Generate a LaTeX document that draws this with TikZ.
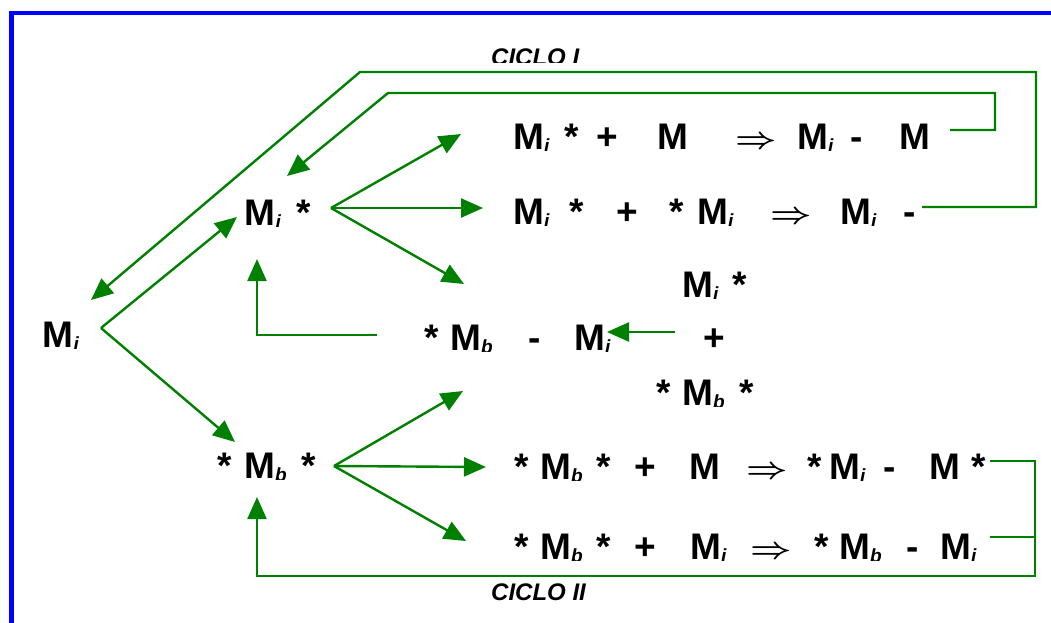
\documentclass[tikz,border=0pt]{standalone}
\usepackage{fontspec}
\setmainfont{Liberation Sans}
\usepackage{graphicx}
\usetikzlibrary{arrows.meta}
\definecolor{leaf}{RGB}{0,128,0}
\definecolor{frameblue}{RGB}{0,0,255}
% italic index letter, sitting low on the baseline
\newcommand\ix[1]{\raisebox{-3pt}{\fontsize{19}{19}\selectfont\bfseries\itshape #1}}
% place a token at a fixed offset (pt) from the start of its row
\newcommand\at[2]{\makebox[0pt][l]{\hspace*{#1pt}#2}}
% double arrow
\newcommand\impl{\raisebox{0.5pt}{\scalebox{3.6}[3.0]{\normalsize\boldmath$\Rightarrow$}}}
% text rows are cut just below their baseline
\newcommand\rowclip[1]{\clip (0,{#1-70}) rectangle (1051,{#1+1});}
\tikzset{
  tx/.style={font=\fontsize{37}{40}\selectfont\bfseries, inner sep=0pt, anchor=base west},
  lbl/.style={font=\fontsize{24}{26}\selectfont\bfseries\itshape, inner sep=0pt, anchor=base west},
  link/.style={draw=leaf, line width=2.4pt},
  arr/.style={link, -{Triangle[length=22pt,width=19pt]}},
}
\begin{document}
\begin{tikzpicture}[x=1pt,y=-1pt]
\clip (0,0) rectangle (1051,622);
\draw[frameblue, line width=4.5pt] (11.7,13) rectangle (1100,700);

% species on the left
\begin{scope}\rowclip{347}
  \node[tx] (Mi) at (42.5,347) {M\ix{i}};
\end{scope}
\begin{scope}\rowclip{225}
  \node[tx] (Mistar) at (244.5,225) {\makebox[64pt][l]{\at{0}{M\ix{i}}\at{52}{*}}};
\end{scope}
\begin{scope}\rowclip{478}
  \node[tx] (Mbstar) at (217,478) {\makebox[98pt][l]{\at{0}{*}\at{27}{M\ix{b}}\at{84}{*}}};
\end{scope}

% reactions of M_i*
\begin{scope}\rowclip{149}
  \node[tx] (r1) at (513,149) {\makebox[416pt][l]{\at{0}{M\ix{i}}\at{51}{*}\at{83}{+}\at{144}{M}\at{222}{\impl}\at{284}{M\ix{i}}\at{337}{-}\at{386}{M}}};
\end{scope}
\begin{scope}\rowclip{224}
  \node[tx] (r2) at (513,224) {\makebox[404pt][l]{\at{0}{M\ix{i}}\at{56}{*}\at{103}{+}\at{156}{*}\at{184}{M\ix{i}}\at{257}{\impl}\at{327}{M\ix{i}}\at{390}{-}}};
\end{scope}

% cross reaction
\begin{scope}\rowclip{350}
  \node[tx] (mid) at (423,350) {\makebox[194pt][l]{\at{1}{*}\at{27}{M\ix{b}}\at{105}{-}\at{151}{M\ix{i}}}};
\end{scope}
\begin{scope}\rowclip{297}
  \node[tx] (pa) at (682,297) {\makebox[66pt][l]{\at{0}{M\ix{i}}\at{50}{*}}};
\end{scope}
\node[tx] (pp) at (703,350) {+};
\begin{scope}\rowclip{405}
  \node[tx] (pb) at (656,405) {\makebox[98pt][l]{\at{0}{*}\at{26}{M\ix{b}}\at{83}{*}}};
\end{scope}

% reactions of *M_b*
\begin{scope}\rowclip{479}
  \node[tx] (r5) at (513,479) {\makebox[476pt][l]{\at{1}{*}\at{27}{M\ix{b}}\at{83}{*}\at{121}{+}\at{176}{M}\at{233}{\impl}\at{294}{*}\at{316}{M\ix{i}}\at{370}{-}\at{416}{M}\at{458}{*}}};
\end{scope}
\begin{scope}\rowclip{559}
  \node[tx] (r6) at (513,559) {\makebox[470pt][l]{\at{1}{*}\at{27}{M\ix{b}}\at{83}{*}\at{121}{+}\at{177}{M\ix{i}}\at{237}{\impl}\at{301}{*}\at{326}{M\ix{b}}\at{393}{-}\at{427}{M\ix{i}}}};
\end{scope}

% cycle labels
\begin{scope}\clip (0,0) rectangle (1051,62);
  \node[lbl] (c1) at (491,65) {CICLO I};
\end{scope}
\node[lbl] (c2) at (491,600) {CICLO II};

% connector ends
\coordinate (f0) at (101,328);
\coordinate (f1) at (331,208);
\coordinate (f2) at (334,466);
\coordinate (tA) at (237,217);
\coordinate (tB) at (235,442);
\coordinate (tMi) at (91,300);
\coordinate (tMs) at (287,176);
\coordinate (e1) at (461,134);
\coordinate (e2) at (483,208);
\coordinate (e3) at (464,284);
\coordinate (g1) at (463,391);
\coordinate (g2) at (486,467);
\coordinate (g3) at (466,541);
\coordinate (s1) at (950,130);
\coordinate (s2) at (922,207);
\coordinate (s5) at (990,461);
\coordinate (s6) at (990,537);
\coordinate (m0) at (377,335);
\coordinate (tUp) at (257,259);
\coordinate (h0) at (675,332);
\coordinate (tH) at (607,332);
\coordinate (tDn) at (257,497);

% initiation
\draw[arr] (f0) -- (tA);
\draw[arr] (f0) -- (tB);
% branches
\draw[arr] (f1) -- (e1);
\draw[arr] (f1) -- (e2);
\draw[arr] (f1) -- (e3);
\draw[arr] (f2) -- (g1);
\draw[arr] (f2) -- (g2);
\draw[arr] (f2) -- (g3);
% cycle I
\draw[arr] (s2) -- (1036,207) -- (1036,72) -- (360,72) -- (tMi);
\draw[arr] (s1) -- (995,130) -- (995,93) -- (388,93) -- (tMs);
% cross step
\draw[arr] (h0) -- (tH);
\draw[arr] (m0) -- (257,335) -- (tUp);
% cycle II
\draw[arr] (s5) -- (1035,461) -- (1035,576) -- (257,576) -- (tDn);
\draw[link] (s6) -- (1035,537);
\end{tikzpicture}
\end{document}
